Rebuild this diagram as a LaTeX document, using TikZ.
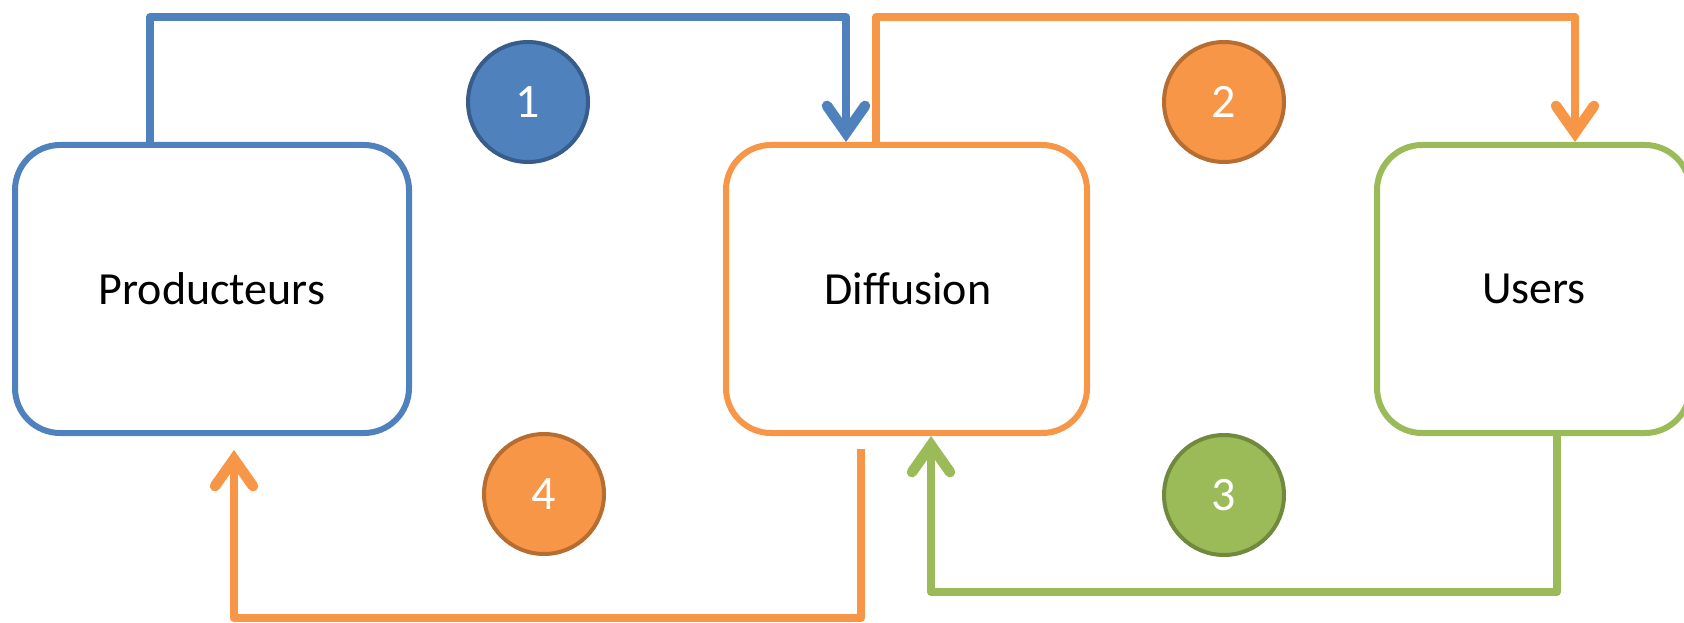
\documentclass[tikz,border=0pt]{standalone}
\usepackage{fontspec}
\setmainfont{Carlito}
\usetikzlibrary{arrows.meta}
\definecolor{cblue}{HTML}{4F81BD}
\definecolor{cblued}{HTML}{385D8A}
\definecolor{corange}{HTML}{F79646}
\definecolor{coranged}{HTML}{B66D31}
\definecolor{cgreen}{HTML}{9BBB59}
\definecolor{cgreend}{HTML}{71893F}
\tikzset{
  box/.style={draw, line width=6pt, rounded corners=45pt, fill=white, inner sep=0pt, minimum height=288pt},
  boxtext/.style={font=\fontsize{46}{54}\selectfont, text=black},
  num/.style={circle, line width=4pt, minimum size=120pt, inner sep=0pt, text=white, font=\fontsize{48}{56}\selectfont},
  conn/.style={line width=8pt, line join=round, -{Straight Barb[length=27pt,width=38pt,line cap=round,line width=2.5pt 1]}},
}
\begin{document}
\begin{tikzpicture}[x=1pt,y=-1pt]
\useasboundingbox (0,0) rectangle (1684,623);
\node[box, draw=cblue, minimum width=394pt] (prod) at (212,289) {};
\node[box, draw=corange, minimum width=361pt] (diff) at (906.5,289) {};
\node[box, draw=cgreen, minimum width=313pt] (users) at (1533.5,289) {};
\node[boxtext] (tprod) at (212,289) {Producteurs};
\node[boxtext] (tdiff) at (908,289) {Diffusion};
\node[boxtext] (tusers) at (1534,289) {Users};
\node[num, fill=cblue, draw=cblued] (n1) at (528,102) {1};
\node[num, fill=corange, draw=coranged] (n2) at (1224,102) {2};
\node[num, fill=cgreen, draw=cgreend] (n3) at (1224,495) {3};
\node[num, fill=corange, draw=coranged] (n4) at (544,494) {4};
\coordinate (b1) at (150,17);
\coordinate (b2) at (846,17);
\coordinate (o1) at (876,17);
\coordinate (o2) at (1575,17);
\coordinate (g1) at (1557,592);
\coordinate (g2) at (931,592);
\coordinate (ostart) at (861,449);
\coordinate (o3) at (861,618);
\coordinate (o4) at (234,618);
\coordinate (oend) at (234,450);
\draw[conn, cblue] (prod.north -| b1) -- (b1) -- (b2) -- (diff.north -| b2);
\draw[conn, corange] (diff.north -| o1) -- (o1) -- (o2) -- (users.north -| o2);
\draw[conn, cgreen] (users.south -| g1) -- (g1) -- (g2) -- (diff.south -| g2);
\draw[conn, corange] (ostart) -- (o3) -- (o4) -- (oend);
\end{tikzpicture}
\end{document}
